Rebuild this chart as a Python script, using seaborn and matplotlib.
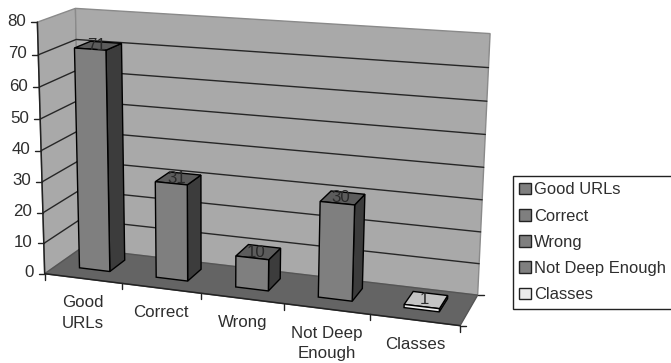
import numpy as np
import pandas as pd
import seaborn as sns
import matplotlib
matplotlib.use("Agg")
import matplotlib.pyplot as plt
from matplotlib.lines import Line2D
from matplotlib.patches import Polygon
from matplotlib.transforms import IdentityTransform, Transform

# Chart content
categories = ["Good URLs", "Correct", "Wrong", "Not Deep Enough", "Classes"]
axis_labels = ["Good\nURLs", "Correct", "Wrong", "Not Deep\nEnough", "Classes"]
values = [71, 31, 10, 30, 1]
value_ticks = [0, 10, 20, 30, 40, 50, 60, 70, 80]

# Colours
front_colors = ["#7f7f7f", "#7f7f7f", "#7f7f7f", "#7f7f7f", "#ececec"]
side_colors = ["#3c3c3c", "#3c3c3c", "#3c3c3c", "#3c3c3c", "#8c8c8c"]
top_colors = ["#5c5c5c", "#5c5c5c", "#5c5c5c", "#5c5c5c", "#c4c4c4"]
wall_color = "#a9a9a9"
floor_color = "#646464"
text_color = "#2e2e2e"

W, H = 671, 363
FONT_SIZE = 12.2
LEGEND_FONT_SIZE = 11.9
X0, X1 = -0.5, 4.5
BAR_WIDTH = 0.40
DEPTH_FRONT, DEPTH_BACK = 0.33, 0.77

# Camera calibration: box frame location (category, depth, value) -> pixel
frame_points = [
    (X0, 0, 0, 46, 272), (X0, 0, 80, 36, 22), (X0, 1, 0, 79, 250), (X0, 1, 80, 76, 9),
    (X1, 1, 80, 490, 34), (X1, 1, 0, 478, 293), (X1, 0, 0, 460, 325),
    (0.5, 0, 0, 123, 283), (1.5, 0, 0, 201, 293), (2.5, 0, 0, 284, 305), (3.5, 0, 0, 370, 317),
    (X0, 0, 40, 41, 150), (X0, 1, 70, 77, 39), (X1, 1, 40, 484, 167),
]


def fit_camera(points):
    rows, rhs = [], []
    for x, d, z, u, v in points:
        rows.append([x, d, z, 1, 0, 0, 0, 0, -u * x, -u * d, -u * z])
        rows.append([0, 0, 0, 0, x, d, z, 1, -v * x, -v * d, -v * z])
        rhs += [u, v]
    sol = np.linalg.lstsq(np.array(rows, float), np.array(rhs, float), rcond=None)[0]
    return np.append(sol, 1.0).reshape(3, 4)


CAMERA = fit_camera(frame_points)


def project(x, d, z):
    """Map a box location to display coordinates."""
    hom = CAMERA @ np.array([x, d, z, 1.0])
    return hom[0] / hom[2], H - hom[1] / hom[2]


class DepthPlane(Transform):
    """Send (category, value) data on a plane of constant depth to the display."""
    input_dims = output_dims = 2
    is_affine = False

    def __init__(self, plane_depth):
        super().__init__()
        self.plane_depth = plane_depth

    def transform_non_affine(self, values):
        xy = np.asarray(values, float)
        return np.array([project(px, self.plane_depth, pz) for px, pz in xy])


sns.set_theme(style="white")
plt.rcParams["font.family"] = ["Liberation Sans", "DejaVu Sans"]

fig = plt.figure(figsize=(W / 100, H / 100), dpi=100, facecolor="white")
ax = fig.add_axes([0, 0, 1, 1])

data = pd.DataFrame({"category": categories, "count": values})
sns.barplot(data=data, x="category", y="count", hue="category", palette=front_colors,
            saturation=1, width=BAR_WIDTH, edgecolor="black", linewidth=1.0,
            legend=False, ax=ax)
ax.axis("off")


def add_face(corners, color, zorder, edge="black", lw=1.0):
    pts = [project(*c) for c in corners]
    ax.add_patch(Polygon(pts, closed=True, facecolor=color, edgecolor=edge, linewidth=lw,
                         transform=IdentityTransform(), clip_on=False, zorder=zorder))


def add_screen_line(xs, ys, color, lw, zorder):
    ax.add_line(Line2D(xs, ys, color=color, linewidth=lw,
                       transform=IdentityTransform(), clip_on=False, zorder=zorder))


def add_line(corners, color, lw, zorder):
    pts = np.array([project(*c) for c in corners])
    add_screen_line(pts[:, 0], pts[:, 1], color, lw, zorder)


# Walls and floor
zmax = value_ticks[-1]
add_face([(X0, 0, 0), (X0, 1, 0), (X0, 1, zmax), (X0, 0, zmax)], wall_color, 1, edge="#8a8a8a")
add_face([(X0, 1, 0), (X1, 1, 0), (X1, 1, zmax), (X0, 1, zmax)], wall_color, 1, edge="#8a8a8a")
add_face([(X0, 0, 0), (X1, 0, 0), (X1, 1, 0), (X0, 1, 0)], floor_color, 1.5, edge="#555555")

# Gridlines running along the side wall and then the back wall
for z in value_ticks[1:-1]:
    add_line([(X0, 0, z), (X0, 1, z), (X1, 1, z)], "#262626", 1.0, 2)

# Axis lines and ticks
add_line([(X0, 0, 0), (X0, 0, zmax)], "#222222", 1.1, 2.5)
add_line([(X0, 0, 0), (X1, 0, 0)], "#222222", 1.1, 2.5)
for z in value_ticks:
    bx, by = project(X0, 0, z)
    add_screen_line([bx - 6, bx], [by, by], "#222222", 1.0, 2.5)
    ax.annotate(str(z), xy=(bx, by), xycoords=IdentityTransform(), xytext=(-11, 1),
                textcoords="offset pixels", ha="right", va="center", fontsize=FONT_SIZE,
                color=text_color, annotation_clip=False)
for i in range(len(categories) + 1):
    bx, by = project(X0 + i, 0, 0)
    add_screen_line([bx, bx], [by, by - 6], "#222222", 1.0, 2.5)
for d in (0, 1):
    bx, by = project(X1, d, 0)
    add_screen_line([bx, bx + 6], [by, by], "#222222", 1.0, 2.5)

# Extrude each seaborn bar into a box
front_plane = DepthPlane(DEPTH_FRONT)
bars = [container.patches[0] for container in ax.containers]
for i, bar in enumerate(bars):
    bar.set_transform(front_plane)
    bar.set_clip_on(False)
    bar.set_zorder(3 + i + 0.3)
    x_left = bar.get_x()
    x_right = x_left + bar.get_width()
    height = bar.get_height()
    add_face([(x_right, DEPTH_FRONT, 0), (x_right, DEPTH_BACK, 0),
              (x_right, DEPTH_BACK, height), (x_right, DEPTH_FRONT, height)],
             side_colors[i], 3 + i + 0.1)
    add_face([(x_left, DEPTH_FRONT, height), (x_right, DEPTH_FRONT, height),
              (x_right, DEPTH_BACK, height), (x_left, DEPTH_BACK, height)],
             top_colors[i], 3 + i + 0.2)
    cx, cy = project((x_left + x_right) / 2, (DEPTH_FRONT + DEPTH_BACK) / 2, height)
    ax.annotate(str(values[i]), xy=(cx, cy), xycoords=IdentityTransform(), xytext=(-2, 0),
                textcoords="offset pixels", ha="center", va="center", fontsize=FONT_SIZE,
                color="#2a2a2a", annotation_clip=False, zorder=20)

# Category labels under the front edge
for i, label in enumerate(axis_labels):
    bx, by = project(i, 0, 0)
    ax.annotate(label, xy=(bx, by), xycoords=IdentityTransform(), xytext=(0, -17),
                textcoords="offset pixels", ha="center", va="top", fontsize=FONT_SIZE,
                color=text_color, linespacing=1.42, annotation_clip=False, multialignment="center")

# Legend, running off the right edge of the canvas
legend_handles = [plt.Rectangle((0, 0), 1, 1, facecolor=c, edgecolor="#222222", linewidth=1.0)
                  for c in front_colors]
legend = ax.legend(legend_handles, categories, loc="upper left",
                   bbox_to_anchor=(513 / W, 1 - 176 / H), bbox_transform=fig.transFigure,
                   fontsize=LEGEND_FONT_SIZE, labelcolor=text_color, frameon=True, fancybox=False,
                   framealpha=1, edgecolor="#222222", borderpad=0.38, borderaxespad=0,
                   labelspacing=0.68, handlelength=0.72, handleheight=0.72, handletextpad=0.15)
legend.get_frame().set_linewidth(1.0)
legend.set_zorder(30)

fig.savefig("out.png", dpi=100)
